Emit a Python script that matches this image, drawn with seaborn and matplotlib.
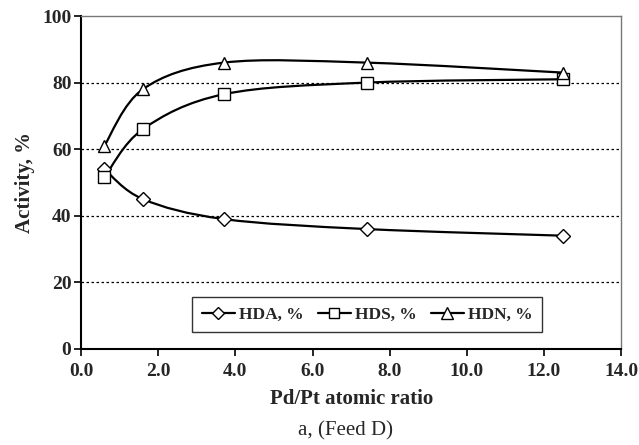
import numpy as np
import matplotlib
matplotlib.use("Agg")
import matplotlib.pyplot as plt
import seaborn as sns
from matplotlib.path import Path
from matplotlib.patches import PathPatch
from matplotlib.lines import Line2D

ratio = [0.6, 1.6, 3.7, 7.4, 12.5]
hda = [54, 45, 39, 36, 34]
hds = [51.5, 66, 76.5, 80, 81]
hdn = [61, 78, 86, 86, 83]

series = [("HDA, %", hda, "D", 7), ("HDS, %", hds, "s", 8), ("HDN, %", hdn, "^", 9)]

sns.set_style("white")
plt.rcParams["font.family"] = ["Liberation Serif", "DejaVu Serif"]


def smooth_path(xs, ys):
    # excel-like smoothed line: catmull-rom segments as cubic beziers
    p = np.column_stack([xs, ys]).astype(float)
    ext = np.vstack([p[0], p, p[-1]])
    verts = [p[0]]
    codes = [Path.MOVETO]
    for i in range(1, len(ext) - 2):
        c1 = ext[i] + (ext[i + 1] - ext[i - 1]) / 6
        c2 = ext[i + 1] - (ext[i + 2] - ext[i]) / 6
        verts += [c1, c2, ext[i + 1]]
        codes += [Path.CURVE4] * 3
    return Path(verts, codes)


fig = plt.figure(figsize=(6.39, 4.45), dpi=100)
ax = fig.add_axes([0.127, 0.216, 0.845, 0.748])

handles = []
for name, vals, mk, ms in series:
    ax.add_patch(PathPatch(smooth_path(ratio, vals), fill=False, edgecolor="black", lw=1.6, zorder=2))
    sns.lineplot(x=ratio, y=vals, marker=mk, markersize=ms, linestyle="none",
                 markerfacecolor="white", markeredgecolor="black", markeredgewidth=1.0,
                 color="black", ax=ax, zorder=3, legend=False)
    handles.append(Line2D([], [], color="black", lw=1.6, marker=mk, markersize=ms - 1,
                          markerfacecolor="white", markeredgecolor="black", label=name))

ax.set_xlim(0, 14)
ax.set_ylim(0, 100)
ax.set_xticks(np.arange(0, 14.1, 2))
ax.set_xticklabels([f"{v:.1f}" for v in np.arange(0, 14.1, 2)])
ax.set_yticks(np.arange(0, 101, 20))
for yv in [20, 40, 60, 80]:
    ax.axhline(yv, color="black", lw=0.9, ls=(0, (2, 2)), zorder=1)

for lab in ax.get_xticklabels() + ax.get_yticklabels():
    lab.set_fontweight("bold")
    lab.set_fontsize(14)
ax.tick_params(axis="both", direction="out", length=5, width=1.2, color="black", bottom=True, left=True)
ax.tick_params(axis="x", pad=5)
ax.tick_params(axis="y", pad=2)

ax.spines["left"].set_linewidth(1.5)
ax.spines["bottom"].set_linewidth(1.5)
ax.spines["left"].set_color("black")
ax.spines["bottom"].set_color("black")
ax.spines["top"].set_color("#777777")
ax.spines["right"].set_color("#777777")
ax.spines["top"].set_linewidth(1.0)
ax.spines["right"].set_linewidth(1.0)

ax.set_xlabel("Pd/Pt atomic ratio", fontsize=15, fontweight="bold", labelpad=7)
ax.set_ylabel("Activity, %", fontsize=15, fontweight="bold", labelpad=5)

leg = ax.legend(handles=handles, loc="center", bbox_to_anchor=(0.53, 0.103), ncol=3,
                frameon=True, fancybox=False, edgecolor="black", handlelength=1.9,
                columnspacing=0.8, handletextpad=0.25, borderpad=0.55,
                prop={"weight": "bold", "size": 12.5})
leg.get_frame().set_linewidth(1.0)

fig.text(0.54, 0.022, "a, (Feed D)", ha="center", fontsize=15)

fig.savefig("out.png", dpi=100)
